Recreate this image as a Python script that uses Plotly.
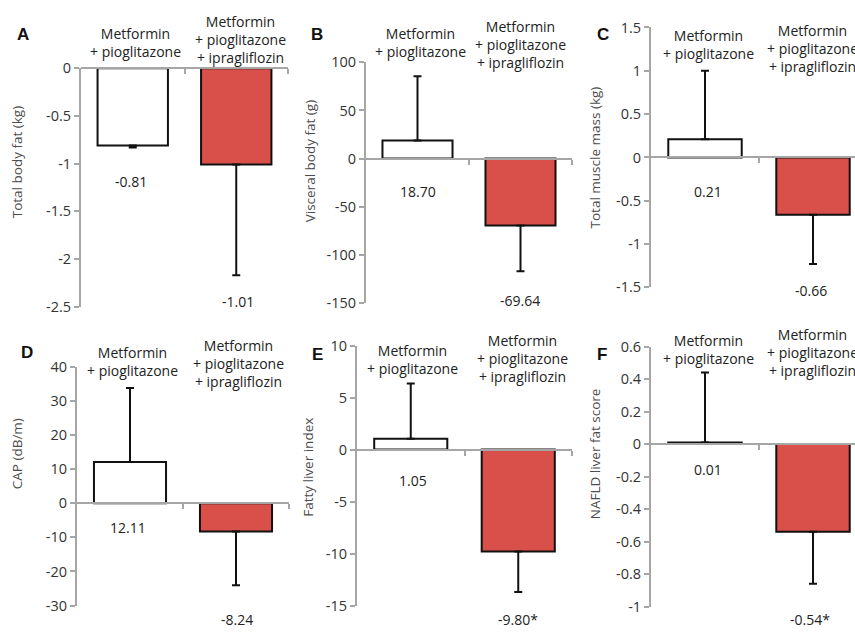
import plotly.graph_objects as go

W, H = 855, 633

# ---------------- data ----------------
groups = ["Metformin<br>+ pioglitazone",
          "Metformin<br>+ pioglitazone<br>+ ipragliflozin"]
panel_letters = ["A", "B", "C", "D", "E", "F"]
y_titles = ["Total body fat (kg)", "Visceral body fat (g)", "Total muscle mass (kg)",
            "CAP (dB/m)", "Fatty liver index", "NAFLD liver fat score"]

total_body_fat = [-0.81, -1.01]
total_body_fat_err = [0.02, 1.16]
visceral_fat = [18.70, -69.64]
visceral_fat_err = [67.0, 47.5]
muscle_mass = [0.21, -0.66]
muscle_mass_err = [0.79, 0.57]
cap = [12.11, -8.24]
cap_err = [21.7, 15.8]
fatty_liver_index = [1.05, -9.80]
fatty_liver_index_err = [5.3, 3.9]
nafld_score = [0.01, -0.54]
nafld_score_err = [0.43, 0.32]
significance = [["", ""], ["", ""], ["", ""], ["", ""], ["", "*"], ["", "*"]]

ticks_A = [0, -0.5, -1, -1.5, -2, -2.5]
ticklabels_A = ["0", "-0.5", "-1", "-1.5", "-2", "-2.5"]
ticks_B = [100, 50, 0, -50, -100, -150]
ticklabels_B = ["100", "50", "0", "-50", "-100", "-150"]
ticks_C = [1.5, 1, 0.5, 0, -0.5, -1, -1.5]
ticklabels_C = ["1.5", "1", "0.5", "0", "-0.5", "-1", "-1.5"]
ticks_D = [40, 30, 20, 10, 0, -10, -20, -30]
ticklabels_D = ["40", "30", "20", "10", "0", "-10", "-20", "-30"]
ticks_E = [10, 5, 0, -5, -10, -15]
ticklabels_E = ["10", "5", "0", "-5", "-10", "-15"]
ticks_F = [0.6, 0.4, 0.2, 0, -0.2, -0.4, -0.6, -0.8, -1]
ticklabels_F = ["0.6", "0.4", "0.2", "0", "-0.2", "-0.4", "-0.6", "-0.8", "-1"]

values = [total_body_fat, visceral_fat, muscle_mass, cap, fatty_liver_index, nafld_score]
errors = [total_body_fat_err, visceral_fat_err, muscle_mass_err, cap_err,
          fatty_liver_index_err, nafld_score_err]
tickvals = [ticks_A, ticks_B, ticks_C, ticks_D, ticks_E, ticks_F]
ticktexts = [ticklabels_A, ticklabels_B, ticklabels_C, ticklabels_D, ticklabels_E, ticklabels_F]

# ---------------- layout (pixel geometry) ----------------
panels = [
    dict(x0=81, x1=288, yt=60, yb=306, xmax=1.5),
    dict(x0=366, x1=572, yt=54, yb=302, xmax=1.5),
    dict(x0=651, x1=855, yt=18, yb=286, xmax=-0.5 + 204 / 108),
    dict(x0=77, x1=289, yt=368, yb=614, xmax=1.5),
    dict(x0=357, x1=572, yt=346, yb=614, xmax=1.5),
    dict(x0=651, x1=855, yt=347, yb=615, xmax=-0.5 + 204 / 108),
]
letter_pos = [(23, 25), (317, 25), (603, 25), (27, 353), (317, 355), (602, 355)]
ytitle_pos = [(17, 157), (310, 156), (595, 152), (17, 458), (308, 472), (595, 458)]
cat_pos = [[(135, 34), (240, 30)], [(420, 34), (520, 35.5)], [(708, 36), (812, 39.5)],
           [(132, 362.5), (238, 364.5)], [(412, 360.5), (522, 359)],
           [(708, 349.5), (812, 353.5)]]
val_pos = [[(131, 177), (238, 301)], [(418, 187), (520, 300)], [(708, 187), (811, 289)],
           [(128, 533), (237, 628)], [(413, 485), (518, 628)], [(708, 474), (810, 628)]]

FONT = "Open Sans, Noto Sans, sans-serif"
AX = "#a6a6a6"
RED = "#d9504b"


def px(x):
    return x / W


def py(y):
    return 1 - y / H


fig = go.Figure()
annotations = []
layout_axes = {}

for i in range(6):
    p = panels[i]
    n = i + 1
    xa = "x" if n == 1 else f"x{n}"
    ya = "y" if n == 1 else f"y{n}"
    vals = values[i]
    errs = errors[i]
    plus = [e if v >= 0 else 0 for v, e in zip(vals, errs)]
    minus = [e if v < 0 else 0 for v, e in zip(vals, errs)]
    fig.add_trace(go.Bar(
        x=[0, 1], y=vals, width=0.68, xaxis=xa, yaxis=ya,
        marker=dict(color=["white", RED], line=dict(color="#111", width=2)),
        error_y=dict(type="data", symmetric=False, array=plus, arrayminus=minus,
                     color="#111", thickness=2, width=4),
        showlegend=False, hoverinfo="skip",
    ))
    rmin, rmax = min(tickvals[i]), max(tickvals[i])
    yd = [py(p["yb"]), py(p["yt"])]
    zero_pos = yd[0] + (0 - rmin) / (rmax - rmin) * (yd[1] - yd[0])
    key_x = "xaxis" if n == 1 else f"xaxis{n}"
    key_y = "yaxis" if n == 1 else f"yaxis{n}"
    layout_axes[key_x] = dict(
        domain=[px(p["x0"]), px(p["x1"])], range=[-0.5, p["xmax"]],
        anchor="free", position=zero_pos,
        showline=True, linecolor=AX, linewidth=2,
        ticks="outside", tickvals=[0.5, 1.5], ticklen=5, tickwidth=2, tickcolor=AX,
        showticklabels=False, showgrid=False, zeroline=False, fixedrange=True,
    )
    layout_axes[key_y] = dict(
        domain=yd, range=[rmin, rmax], anchor=xa,
        showline=True, linecolor=AX, linewidth=2,
        ticks="outside", ticklen=5, tickwidth=2, tickcolor=AX,
        tickvals=tickvals[i], ticktext=ticktexts[i],
        tickfont=dict(family=FONT, size=14.5, color="#333"),
        showgrid=False, zeroline=False, fixedrange=True,
    )
    lx, ly = letter_pos[i]
    annotations.append(dict(text=f"<b>{panel_letters[i]}</b>", x=px(lx), y=py(ly),
                            xref="paper", yref="paper", showarrow=False,
                            xanchor="center", yanchor="middle",
                            font=dict(family="Liberation Sans, Arial", size=17, color="#111")))
    tx, ty = ytitle_pos[i]
    annotations.append(dict(text=y_titles[i], x=px(tx), y=py(ty), textangle=-90,
                            xref="paper", yref="paper", showarrow=False,
                            xanchor="center", yanchor="middle",
                            font=dict(family=FONT, size=13.5, color="#4d4d4d")))
    for j in range(2):
        cx, cy = cat_pos[i][j]
        annotations.append(dict(text=groups[j], x=px(cx), y=py(cy),
                                xref="paper", yref="paper", showarrow=False,
                                xanchor="center", yanchor="middle",
                                font=dict(family=FONT, size=14, color="#222")))
        vx, vy = val_pos[i][j]
        annotations.append(dict(text=f"{vals[j]:.2f}{significance[i][j]}", x=px(vx), y=py(vy),
                                xref="paper", yref="paper", showarrow=False,
                                xanchor="center", yanchor="middle",
                                font=dict(family=FONT, size=14, color="#222")))

fig.update_layout(
    width=W, height=H, margin=dict(l=0, r=0, t=0, b=0),
    paper_bgcolor="white", plot_bgcolor="white",
    annotations=annotations, **layout_axes,
)

fig.write_html("out.html", config={"displayModeBar": False},
               post_script="document.body.style.margin='0';document.body.style.overflow='hidden';")
